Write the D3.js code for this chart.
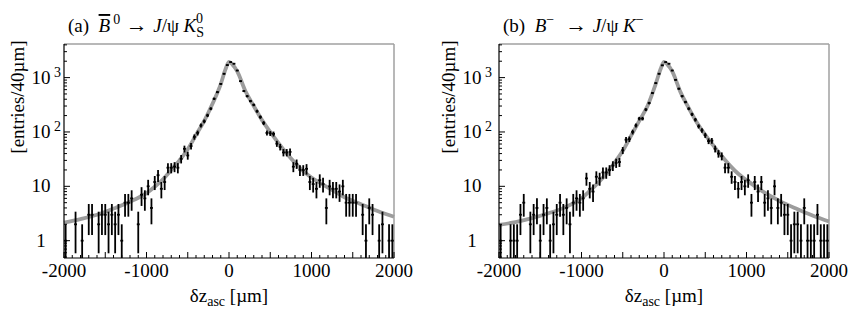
<!DOCTYPE html>
<html lang="en">
<head>
<meta charset="UTF-8">
<title>dz asc distributions</title>
<script src="https://cdn.jsdelivr.net/npm/d3@7"></script>
<style>
  body { margin: 0; background: #fff; }
  svg text { font-family: "Liberation Serif", "Tinos", "Nimbus Roman", "FreeSerif", "Noto Serif", "DejaVu Serif", serif; fill: #000; }
</style>
</head>
<body>
<svg id="chart" width="849" height="314"></svg>
<script>
// 100 bins of 40 um between -2000 and 2000
const binCentres = d3.range(-1980, 2000, 40);

const countsA = [
  1, 0, 0, 2, 0, 1, 0, 3, 3, 0,
  2, 3, 3, 2, 3, 2, 3, 1, 5, 5,
  6, 0, 2, 7, 6, 10, 4, 12, 16, 9,
  12, 22, 22, 23, 22, 32, 49, 37, 55, 81,
  96, 132, 157, 202, 268, 408, 540, 765, 1177, 1700,
  1930, 1800, 1350, 860, 565, 455, 370, 315, 240, 188,
  146, 96, 94, 92, 61, 53, 42, 42, 43, 23,
  26, 20, 20, 21, 12, 11, 9, 13, 11, 4,
  10, 9, 9, 8, 10, 5, 5, 5, 5, 0,
  3, 1, 4, 3, 0, 1, 2, 0, 1, 1
];

const countsB = [
  1, 0, 0, 1, 1, 1, 3, 5, 0, 2,
  3, 4, 1, 3, 4, 1, 2, 3, 5, 3,
  4, 2, 5, 6, 5, 6, 14, 9, 8, 15,
  14, 18, 18, 20, 24, 27, 28, 46, 72, 74,
  100, 132, 176, 176, 258, 340, 520, 790, 1177, 1680,
  1930, 1800, 1350, 910, 625, 455, 355, 268, 211, 168,
  127, 107, 87, 68, 69, 49, 40, 36, 22, 22,
  15, 12, 9, 12, 10, 13, 5, 12, 8, 12,
  5, 6, 4, 10, 4, 5, 3, 3, 1, 2,
  2, 1, 4, 1, 1, 1, 3, 1, 1, 1
];

const fitX = [-2000, -1800, -1600, -1400, -1200, -1000, -900, -800, -700, -600, -500, -400,
  -300, -200, -100, -40, 0, 40, 100, 200, 300, 400, 500, 600, 700, 800, 900, 1000,
  1200, 1400, 1600, 1800, 2000];
const fitA = [2.15, 2.5, 3.0, 3.9, 5.2, 7.5, 9.8, 13.5, 20, 30, 48, 88,
  160, 330, 760, 1450, 1950, 1750, 1300, 560, 300, 165, 100, 62, 40, 27, 19, 14.5,
  9.5, 6.3, 4.7, 3.5, 2.75];
const fitB = [1.95, 2.2, 2.6, 3.2, 4.1, 6.0, 8.2, 11.5, 17, 27, 45, 85,
  160, 300, 770, 1450, 1950, 1750, 1300, 540, 275, 148, 88, 56, 36, 24, 17, 13,
  8, 5.4, 3.9, 2.9, 2.25];

const xTicks = [-2000, -1000, 0, 1000, 2000];
const yTicks = [1, 10, 100, 1000];
const yTickBase = ["1", "10", "10", "10"];
const yTickExp = ["", "", "2", "3"];

const svg = d3.select("#chart");
const plotTop = 44, plotBottom = 258, plotW = 330;

const y = d3.scaleLog().domain([0.48, 4150]).range([plotBottom, plotTop]);

const panels = [
  { left: 64, counts: countsA, fit: fitA, shift: 0 },
  { left: 499, counts: countsB, fit: fitB, shift: -4 }
];

panels.forEach(function(p) {
  const x = d3.scaleLinear().domain([-2000, 2000]).range([p.left, p.left + plotW]);
  const g = svg.append("g");
  const binW = x(40) - x(0);

  // gray frame top / right
  g.append("line").attr("x1", x(-2000)).attr("x2", x(2000)).attr("y1", plotTop).attr("y2", plotTop)
    .attr("stroke", "#a0a0a0").attr("stroke-width", 1.5);
  g.append("line").attr("x1", x(2000)).attr("x2", x(2000)).attr("y1", plotTop).attr("y2", plotBottom)
    .attr("stroke", "#a0a0a0").attr("stroke-width", 1.5);

  // fit curve
  const line = d3.line()
    .x((d, i) => x(fitX[i]))
    .y(d => y(d))
    .curve(d3.curveMonotoneX);
  g.append("path").datum(p.fit)
    .attr("d", line)
    .attr("fill", "none")
    .attr("stroke", "#9c9c9c")
    .attr("stroke-width", 3.8);

  // data points with sqrt(N) errors
  const pts = binCentres.map((c, i) => ({ x: c, n: p.counts[i] })).filter(d => d.n > 0);
  const pg = g.append("g").attr("stroke", "#000").attr("stroke-width", 1.8);
  pg.selectAll(".ex").data(pts).enter().append("line")
    .attr("x1", d => x(d.x) - binW / 2 + 0.2)
    .attr("x2", d => x(d.x) + binW / 2 - 0.2)
    .attr("y1", d => y(d.n)).attr("y2", d => y(d.n));
  pg.selectAll(".ey").data(pts).enter().append("line")
    .attr("x1", d => x(d.x)).attr("x2", d => x(d.x))
    .attr("y1", d => y(d.n + Math.sqrt(d.n)))
    .attr("y2", d => d.n - Math.sqrt(d.n) > y.domain()[0] ? y(d.n - Math.sqrt(d.n)) : plotBottom);

  // left axis with log ticks pointing inward
  g.append("line").attr("x1", p.left).attr("x2", p.left).attr("y1", plotTop).attr("y2", plotBottom)
    .attr("stroke", "#000").attr("stroke-width", 1.2);
  const minor = [];
  [0.1, 1, 10, 100, 1000].forEach(dec => {
    for (let k = 1; k < 10; k++) {
      const v = dec * k;
      if (v >= y.domain()[0] && v <= y.domain()[1]) minor.push(v);
    }
  });
  g.selectAll(".ytick").data(minor).enter().append("line")
    .attr("x1", p.left).attr("x2", d => p.left + (yTicks.includes(d) ? 6 : 3))
    .attr("y1", d => y(d)).attr("y2", d => y(d))
    .attr("stroke", "#000").attr("stroke-width", 1);

  yTicks.forEach((v, i) => {
    g.append("text")
      .attr("x", p.left - 23 + p.shift)
      .attr("y", y(v) + 6)
      .attr("text-anchor", "middle")
      .attr("font-size", 19)
      .text(yTickBase[i]);
    if (yTickExp[i]) {
      g.append("text")
        .attr("x", p.left - 10 + p.shift)
        .attr("y", y(v) - 1)
        .attr("font-size", 14)
        .text(yTickExp[i]);
    }
  });

  // bottom axis
  g.append("line").attr("x1", x(-2000)).attr("x2", x(2000)).attr("y1", plotBottom).attr("y2", plotBottom)
    .attr("stroke", "#000").attr("stroke-width", 1.2);
  const xt = d3.range(-2000, 2001, 100);
  g.selectAll(".xtick").data(xt).enter().append("line")
    .attr("x1", d => x(d)).attr("x2", d => x(d))
    .attr("y1", plotBottom).attr("y2", d => plotBottom - (d % 500 === 0 ? 6 : 3))
    .attr("stroke", "#000").attr("stroke-width", 1);
  g.selectAll(".xlab").data(xTicks).enter().append("text")
    .attr("x", d => x(d)).attr("y", 277)
    .attr("text-anchor", "middle")
    .attr("font-size", 19)
    .text(d => d);

  // x title
  const xt2 = g.append("text").attr("x", x(0)).attr("y", 302)
    .attr("text-anchor", "middle").attr("font-size", 19);
  xt2.append("tspan").text("\u03b4z");
  xt2.append("tspan").attr("font-size", 14).attr("dy", 4).text("asc");
  xt2.append("tspan").attr("dy", -4).text(" [\u00b5m]");

  // y title
  g.append("text")
    .attr("transform", "translate(" + (p.left - 40 + p.shift) + ",97) rotate(-90)")
    .attr("text-anchor", "middle")
    .attr("font-size", 19)
    .text("[entries/40\u00b5m]");
});

// panel titles
const ta = svg.append("text").attr("x", 68).attr("y", 32).attr("font-size", 19);
ta.append("tspan").text("(a)\u00a0\u00a0");
ta.append("tspan").attr("font-style", "italic").attr("text-decoration", "overline").text("B");
ta.append("tspan").attr("font-size", 14).attr("dy", -8).attr("dx", 3).text("0");
ta.append("tspan").attr("dy", 8).attr("font-size", 22).text("\u00a0\u2192\u00a0");
ta.append("tspan").attr("font-style", "italic").text("J");
ta.append("tspan").text("/\u03c8\u00a0");
ta.append("tspan").attr("font-style", "italic").text("K");
ta.append("tspan").attr("font-size", 14).attr("dy", 5).text("S");
ta.append("tspan").attr("font-size", 14).attr("dy", -14).attr("dx", -8).text("0");

const tb = svg.append("text").attr("x", 503).attr("y", 32).attr("font-size", 19);
tb.append("tspan").text("(b)\u00a0\u00a0");
tb.append("tspan").attr("font-style", "italic").text("B");
tb.append("tspan").attr("font-size", 14).attr("dy", -8).text("\u2212");
tb.append("tspan").attr("dy", 8).attr("font-size", 22).text("\u00a0\u00a0\u2192\u00a0");
tb.append("tspan").attr("font-style", "italic").text("J");
tb.append("tspan").text("/\u03c8\u00a0");
tb.append("tspan").attr("font-style", "italic").text("K");
tb.append("tspan").attr("font-size", 14).attr("dy", -8).text("\u2212");
</script>
</body>
</html>
